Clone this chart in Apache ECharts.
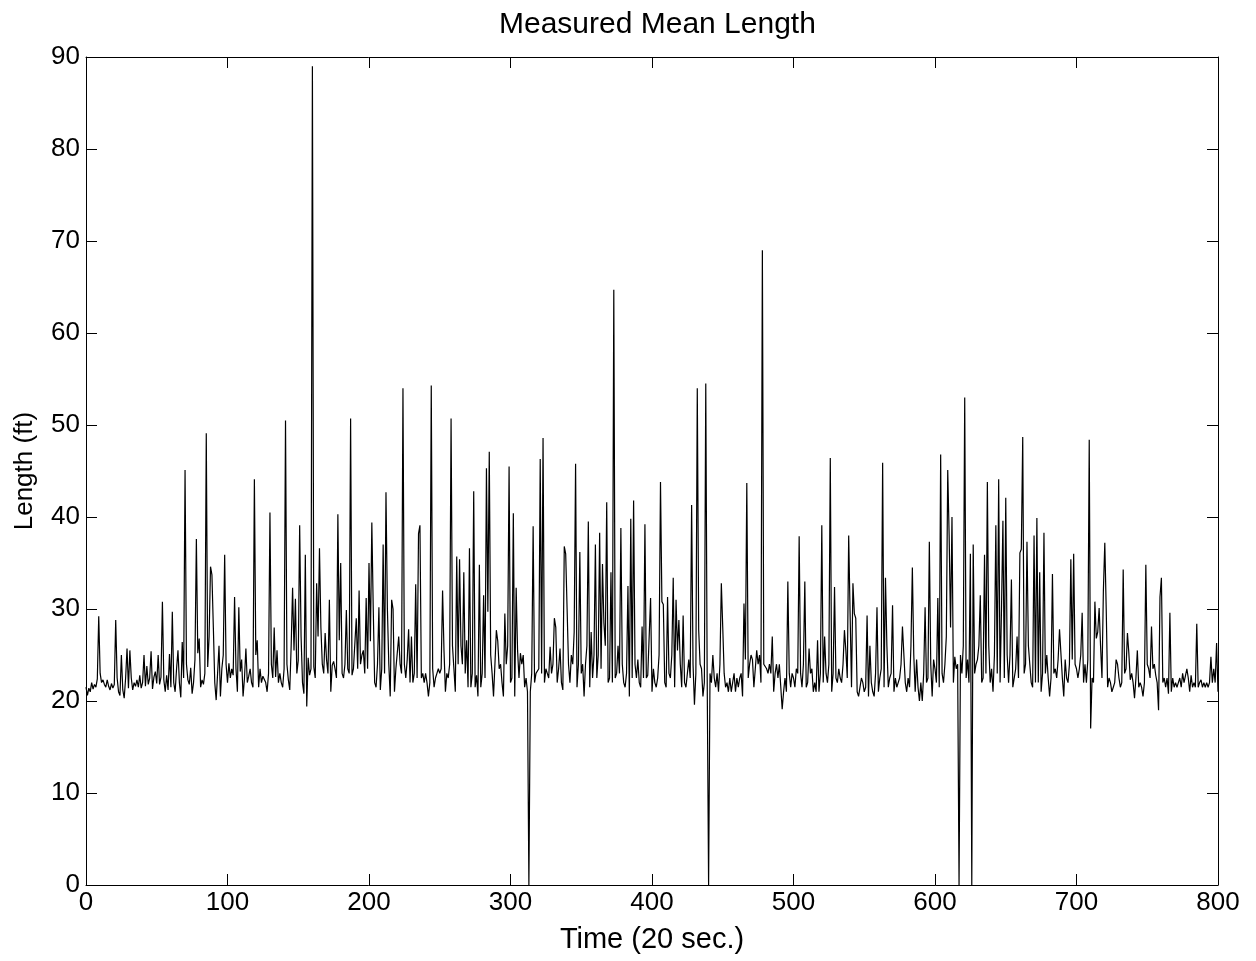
<!DOCTYPE html>
<html>
<head>
<meta charset="utf-8">
<script src="https://cdn.jsdelivr.net/npm/echarts@6/dist/echarts.min.js"></script>
<style>html,body{margin:0;padding:0;background:#fff;}#c{width:1256px;height:961px;}</style>
</head>
<body>
<div id="c"></div>
<script>
var chartTitle = 'Measured Mean Length';
var xName = 'Time (20 sec.)';
var yName = 'Length (ft)';
var xTicks = {min: 0, max: 800, interval: 100};
var yTicks = {min: 0, max: 90, interval: 10};
// one sample per time step (20 s), time step = array index 0..800
var meanLength = [
21.5,20.6,21.4,21.0,22.0,21.3,21.8,21.5,22.4,29.2,
23.0,22.0,22.3,21.8,21.5,22.3,21.6,21.2,21.9,21.4,
21.8,28.8,22.5,21.0,20.6,25.0,21.2,20.3,22.5,25.7,
21.4,25.5,22.5,21.2,22.0,21.6,22.3,21.5,22.8,21.4,
22.0,25.0,21.6,23.8,21.8,22.5,25.4,21.3,22.6,23.2,
21.9,25.0,21.8,22.6,30.8,22.3,21.0,22.8,21.2,25.1,
21.5,29.7,22.0,21.0,23.5,25.5,22.0,20.4,26.4,22.5,
45.1,24.0,22.3,21.8,23.6,20.8,22.0,24.5,37.6,25.2,
26.8,21.5,22.3,21.8,23.0,49.1,23.7,27.0,34.6,33.7,
28.0,22.0,20.1,23.0,26.0,20.5,23.5,25.0,35.9,24.0,
22.0,24.1,22.5,23.5,22.8,31.3,23.5,21.0,30.2,23.2,
24.5,20.5,22.5,25.7,22.0,22.7,23.5,22.0,21.5,44.1,
25.0,26.6,21.5,23.5,22.0,22.7,22.5,22.0,21.0,23.0,
40.5,24.0,22.5,28.0,22.6,25.5,22.0,23.0,22.0,21.5,
23.5,50.5,24.0,22.3,21.2,26.0,32.3,25.5,31.1,23.0,
24.4,39.1,27.0,22.0,20.8,35.9,19.4,24.7,22.8,23.5,
89.0,23.7,22.5,32.8,27.0,36.6,28.0,24.0,23.0,27.4,
24.5,23.0,31.0,21.0,23.9,24.3,23.5,22.5,40.3,26.6,
35.0,23.0,22.5,24.0,29.9,23.5,23.0,50.7,22.8,23.5,
23.5,29.0,23.5,32.0,24.0,25.0,25.5,23.0,31.2,23.5,
35.0,26.5,39.4,30.0,22.0,21.5,24.0,30.2,21.2,23.5,
37.0,23.0,42.7,30.0,24.0,20.5,31.0,30.0,21.0,23.5,
23.5,27.0,24.0,23.0,54.0,24.0,22.5,24.5,27.8,22.0,
27.0,22.0,23.0,32.7,22.5,38.2,39.1,22.5,23.0,22.0,
23.0,22.0,20.5,22.0,54.3,23.5,21.5,22.5,23.0,23.5,
23.0,23.5,32.0,25.5,21.0,23.0,22.5,24.0,50.7,26.0,
23.5,21.0,35.7,24.0,35.4,26.0,24.0,34.0,23.0,26.6,
21.5,36.6,21.5,23.0,42.8,21.5,22.8,20.5,34.8,21.5,
23.0,31.5,22.5,45.3,29.7,47.1,25.0,23.0,20.5,24.0,
27.7,26.5,23.5,24.0,22.0,20.5,29.5,24.0,26.0,45.5,
22.0,22.5,40.4,20.5,32.3,25.5,22.5,25.2,24.0,25.0,
21.5,22.5,21.0,0.0,21.0,23.0,39.0,22.0,23.0,23.0,
23.5,46.3,23.0,48.6,22.0,23.5,23.0,22.5,25.9,23.0,
24.0,29.0,28.0,22.0,23.5,25.7,22.0,21.2,36.8,36.0,
30.0,24.0,22.0,25.0,24.0,27.5,45.8,21.5,24.0,36.2,
23.0,24.0,20.5,24.0,26.0,39.5,21.5,27.5,22.5,25.0,
37.0,22.5,25.0,38.3,23.5,34.9,28.5,26.0,41.6,22.0,
22.5,34.0,22.0,64.7,22.5,23.0,26.0,23.0,38.8,24.0,
22.0,21.5,23.0,32.5,20.5,39.8,22.5,41.8,24.0,22.5,
24.5,22.0,21.5,28.1,22.5,39.2,22.5,22.8,23.0,31.2,
21.0,23.5,22.0,21.5,22.5,25.0,43.8,30.8,30.5,22.0,
21.5,31.3,23.0,22.5,25.0,33.4,21.5,31.0,25.5,28.8,
24.0,21.5,29.3,22.0,21.5,23.0,24.5,22.5,41.3,24.0,
19.6,23.0,54.0,27.7,24.0,23.5,20.5,22.0,54.5,22.5,
0.0,23.0,22.0,25.0,22.5,21.5,23.0,21.0,24.0,32.8,
28.0,23.0,21.5,22.0,21.0,22.5,21.0,22.0,23.0,21.0,
22.5,21.5,22.5,23.0,20.5,30.6,24.5,43.7,22.5,24.0,
25.0,24.5,21.5,23.5,25.5,24.0,25.0,22.0,69.0,24.0,
24.0,23.5,23.0,24.0,23.0,27.0,21.0,23.0,24.0,22.5,
24.0,23.8,19.1,21.0,22.5,21.0,33.0,23.0,21.5,23.0,
22.5,21.5,23.5,23.0,37.9,23.0,21.5,24.0,33.0,21.5,
22.0,25.7,23.0,23.5,21.0,22.0,21.0,26.6,21.0,23.0,
39.1,22.0,27.0,23.0,22.0,24.0,46.4,21.0,23.0,32.4,
22.5,22.0,23.5,22.5,22.0,24.0,27.7,25.5,22.5,38.0,
29.5,21.5,32.8,29.5,29.0,21.0,20.5,21.5,22.5,22.0,
21.0,21.5,29.3,20.5,26.0,22.0,21.0,20.5,23.0,30.2,
21.0,22.5,23.5,45.9,21.5,33.4,26.0,21.5,22.5,23.0,
30.4,21.0,22.5,21.5,22.0,22.5,24.0,28.1,28.0,22.0,
21.0,22.5,21.5,26.0,34.5,25.0,21.0,24.5,21.5,20.0,
22.0,20.0,23.0,30.2,22.0,22.5,37.3,24.0,20.5,24.5,
23.5,22.0,31.2,21.5,46.8,23.0,22.0,24.0,27.0,45.1,
38.0,28.0,40.0,22.0,24.8,23.5,24.0,0.0,25.0,23.0,
26.0,53.0,22.5,24.5,22.0,36.0,0.0,37.0,23.0,24.0,
24.5,26.0,31.5,22.0,22.5,35.9,23.0,43.8,26.0,22.0,
23.5,21.0,25.0,39.1,23.0,44.1,22.0,30.0,39.6,22.5,
42.1,25.0,22.0,25.0,33.2,21.5,22.5,23.5,27.0,22.5,
36.1,36.5,48.7,23.0,24.0,37.3,26.0,24.0,22.0,21.5,
38.0,22.0,39.9,22.0,34.0,21.0,23.0,38.3,23.0,25.0,
22.5,20.5,22.5,33.8,23.0,23.5,22.5,24.5,27.8,28.0,
22.5,20.5,24.5,22.5,22.0,24.0,35.4,24.5,36.0,24.0,
23.5,22.5,23.5,25.0,29.6,22.0,24.0,22.0,24.5,48.4,
17.0,22.5,22.0,30.8,26.8,27.5,30.1,26.0,22.5,32.0,
37.2,30.0,21.5,22.5,22.0,21.0,21.5,22.0,24.5,24.0,
22.5,21.5,22.0,34.3,23.0,23.5,27.4,25.2,22.3,23.0,
22.0,20.3,22.5,25.5,21.5,22.0,21.5,20.5,22.0,34.8,
24.0,23.5,22.5,28.1,23.5,24.0,22.8,22.0,19.0,31.3,
33.4,22.0,22.5,21.5,22.5,20.8,29.6,21.0,22.5,21.5,
22.0,21.5,22.0,22.5,21.5,23.0,22.0,21.8,23.5,22.5,
21.0,22.8,21.5,22.0,21.5,28.4,21.5,22.0,22.3,21.5,
22.0,21.5,22.0,21.5,22.0,24.8,22.0,23.5,22.0,26.3,
21.0
];

var FONT = '"Liberation Sans", Arial, Helvetica, sans-serif';
var chart = echarts.init(document.getElementById('c'), null, {renderer: 'canvas'});
var lineData = meanLength.map(function (v, i) { return [i, v]; });

function axisCommon(extra) {
  var base = {
    axisLine: {show: true, onZero: false, lineStyle: {color: '#000', width: 1}},
    axisTick: {show: true, inside: true, length: 11, lineStyle: {color: '#000', width: 1}},
    splitLine: {show: false},
    axisLabel: {show: true, color: '#000', fontFamily: FONT, fontSize: 26}
  };
  for (var k in extra) base[k] = extra[k];
  return base;
}

chart.setOption({
  animation: false,
  backgroundColor: '#fff',
  title: {
    text: chartTitle, left: 494, top: 5,
    textStyle: {color: '#000', fontFamily: FONT, fontSize: 30, fontWeight: 'normal'}
  },
  grid: {left: 86, right: 38, top: 57, bottom: 76, containLabel: false},
  xAxis: [
    axisCommon({type: 'value', position: 'bottom', min: xTicks.min, max: xTicks.max, interval: xTicks.interval,
      name: xName, nameLocation: 'middle', nameGap: 40,
      nameTextStyle: {color: '#000', fontFamily: FONT, fontSize: 29},
      axisLabel: {show: true, color: '#000', fontFamily: FONT, fontSize: 26, margin: 5}}),
    axisCommon({type: 'value', position: 'top', min: xTicks.min, max: xTicks.max, interval: xTicks.interval,
      axisLabel: {show: false}})
  ],
  yAxis: [
    axisCommon({type: 'value', position: 'left', min: yTicks.min, max: yTicks.max, interval: yTicks.interval,
      name: yName, nameLocation: 'middle', nameGap: 48,
      nameTextStyle: {color: '#000', fontFamily: FONT, fontSize: 26},
      axisLabel: {show: true, color: '#000', fontFamily: FONT, fontSize: 26, margin: 6}}),
    axisCommon({type: 'value', position: 'right', min: yTicks.min, max: yTicks.max, interval: yTicks.interval,
      axisLabel: {show: false}})
  ],
  series: [{
    type: 'line', data: lineData, xAxisIndex: 0, yAxisIndex: 0,
    showSymbol: false, symbol: 'none', smooth: false,
    lineStyle: {color: '#000', width: 1.2},
    clip: true
  }]
});
</script>
</body>
</html>
